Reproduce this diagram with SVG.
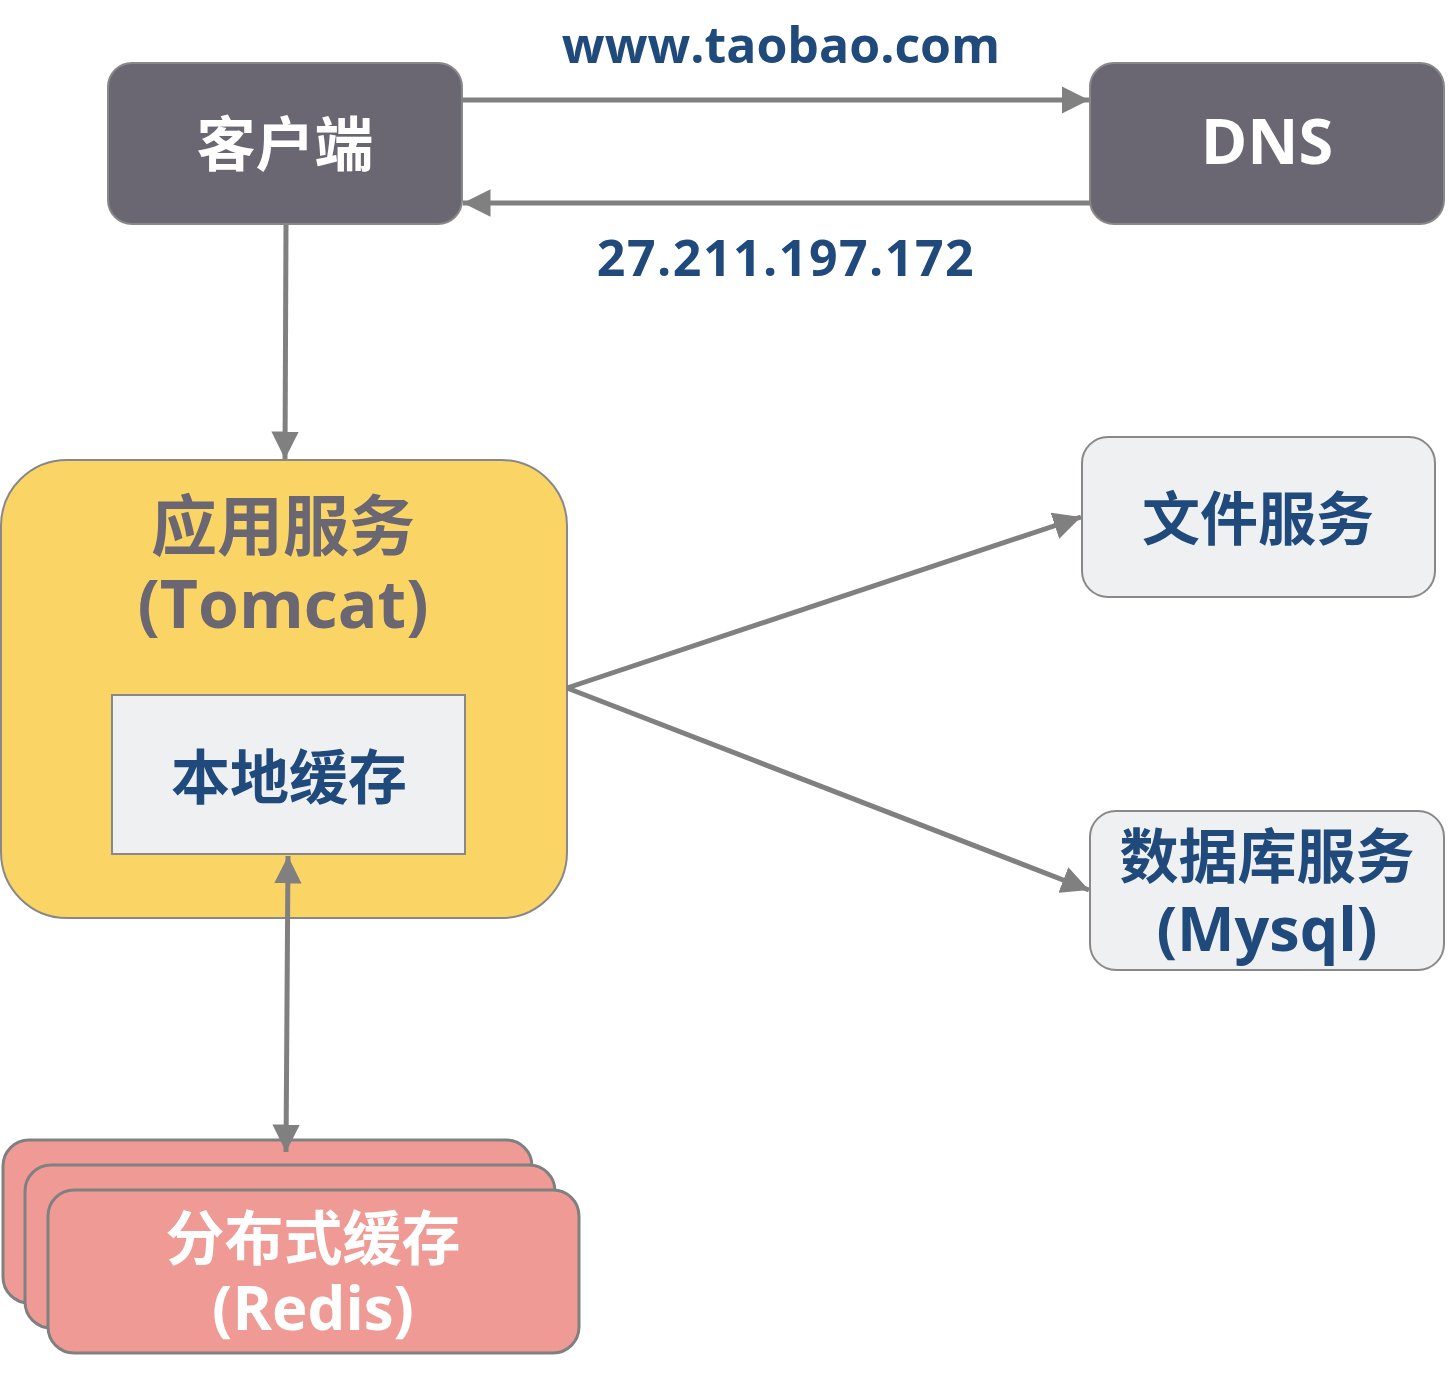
<svg xmlns="http://www.w3.org/2000/svg" width="1449" height="1378" viewBox="0 0 1449 1378">
<defs>
<marker id="ah" viewBox="0 0 10 10" refX="10" refY="5" markerWidth="5.5" markerHeight="5.5" orient="auto-start-reverse" markerUnits="strokeWidth">
<path d="M0,0 L10,5 L0,10 z" fill="#808080"/>
</marker>
<style>
.t{font-family:"Open Sans","Noto Sans CJK SC",sans-serif;font-weight:bold;text-anchor:middle}
.dark{fill:#6a6773;stroke:#888;stroke-width:2}
.light{fill:#eff0f2;stroke:#888;stroke-width:2}
.red{fill:#ef9a95;stroke:#808080;stroke-width:3}
.c{stroke:#808080;stroke-width:5;fill:none}
</style>
</defs>
<rect width="1449" height="1378" fill="#fff"/>
<text class="t" x="781" y="63" font-size="50" fill="#214a7c">www.taobao.com</text>
<text class="t" x="786" y="276" font-size="50" letter-spacing="1.5" fill="#214a7c">27.211.197.172</text>
<g id="client">
<rect class="dark" x="108" y="63" width="354" height="161" rx="24"/>
<text class="t" x="285" y="166" font-size="59" fill="#fff">客户端</text>
</g>
<g id="dns">
<rect class="dark" x="1090" y="63" width="354" height="161" rx="24"/>
<text class="t" x="1267" y="164" font-size="63" fill="#fff">DNS</text>
</g>
<g id="app">
<rect x="1" y="460" width="566" height="458" rx="66" fill="#fad565" stroke="#888" stroke-width="2"/>
<text class="t" x="283" y="550" font-size="66" fill="#6a6773">应用服务</text>
<text class="t" x="283" y="628" font-size="66" fill="#6a6773">(Tomcat)</text>
</g>
<g id="localcache">
<rect class="light" x="112" y="695" width="353" height="159"/>
<text class="t" x="289" y="799" font-size="59" fill="#214a7c">本地缓存</text>
</g>
<g id="file">
<rect class="light" x="1082" y="437" width="353" height="160" rx="26"/>
<text class="t" x="1258" y="540" font-size="58" fill="#214a7c">文件服务</text>
</g>
<g id="db">
<rect class="light" x="1090" y="811" width="354" height="159" rx="26"/>
<text class="t" x="1267" y="878" font-size="59" fill="#214a7c">数据库服务</text>
<text class="t" x="1267" y="951" font-size="61" fill="#214a7c">(Mysql)</text>
</g>
<g id="redis">
<rect class="red" x="3" y="1140" width="529" height="163" rx="26"/>
<rect class="red" x="25" y="1165" width="530" height="163" rx="26"/>
<rect class="red" x="48" y="1190" width="531" height="163" rx="26"/>
<text class="t" x="313" y="1260" font-size="59" fill="#fff">分布式缓存</text>
<text class="t" x="313" y="1330" font-size="60" fill="#fff">(Redis)</text>
</g>
<g id="connectors">
<line class="c" x1="462" y1="100" x2="1089" y2="100" marker-end="url(#ah)"/>
<line class="c" x1="1090" y1="203" x2="463" y2="203" marker-end="url(#ah)"/>
<line class="c" x1="286" y1="225" x2="285" y2="459" marker-end="url(#ah)"/>
<line class="c" x1="567" y1="688" x2="1081" y2="517" marker-end="url(#ah)"/>
<line class="c" x1="567" y1="688" x2="1089" y2="890" marker-end="url(#ah)"/>
<line class="c" x1="288" y1="856" x2="286" y2="1152" marker-start="url(#ah)" marker-end="url(#ah)"/>
</g>
</svg>
